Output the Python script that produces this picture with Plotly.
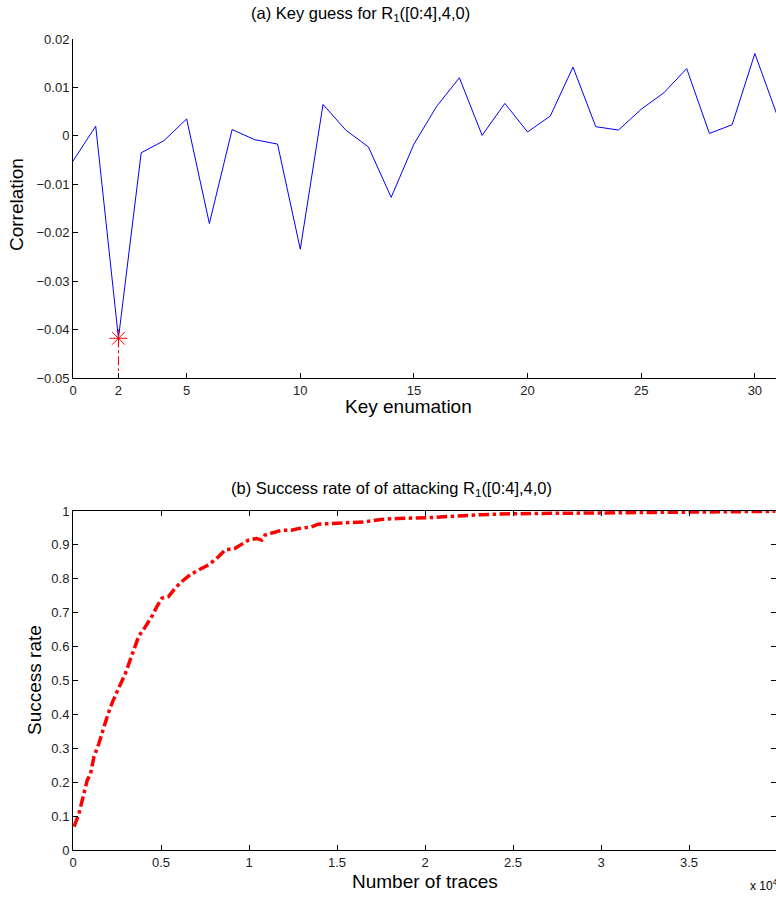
import plotly.graph_objects as go

# ---- data: (a) correlation per key guess ----
key_guess = list(range(32))
correlation = [-0.0052, 0.0020, -0.0418, -0.0035, -0.0010, 0.0035, -0.0181, 0.0013,
               -0.0008, -0.0017, -0.0234, 0.0065, 0.0012, -0.0023, -0.0127, -0.0017,
               0.0061, 0.0120, 0.0001, 0.0067, 0.0008, 0.0041, 0.0142, 0.0019,
               0.0012, 0.0055, 0.0089, 0.0139, 0.0005, 0.0023, 0.0170, 0.0040]
best_key = 2
best_corr = -0.0418
top_xticks = [0, 2, 5, 10, 15, 20, 25, 30]
top_yticks = [0.02, 0.01, 0, -0.01, -0.02, -0.03, -0.04, -0.05]

# ---- data: (b) success rate vs number of traces ----
traces = [60, 340, 810, 1000, 1190, 1470, 1850, 2130, 2415, 2700, 2980, 3264, 3547,
          3736, 4019, 4490, 4774, 5057, 5434, 5811, 6189, 6660, 7132, 7698, 8264,
          8642, 9208, 9962, 10434, 10717, 10906, 11472, 11849, 12415, 12792, 13547,
          13925, 14679, 15623, 16566, 17509, 18453, 20070, 21200, 23100, 24970,
          26900, 28780, 30650, 32570, 34490, 36380, 38250, 39900]
success = [0.069, 0.108, 0.206, 0.226, 0.275, 0.314, 0.378, 0.422, 0.457, 0.491,
           0.521, 0.563, 0.602, 0.631, 0.651, 0.690, 0.719, 0.743, 0.748, 0.773,
           0.792, 0.812, 0.826, 0.841, 0.865, 0.885, 0.890, 0.914, 0.919, 0.914,
           0.929, 0.936, 0.943, 0.943, 0.948, 0.953, 0.961, 0.963, 0.965, 0.968,
           0.975, 0.978, 0.980, 0.984, 0.989, 0.992, 0.993, 0.994, 0.996, 0.997,
           0.998, 0.999, 0.999, 0.999]
bot_xticks = [0, 5000, 10000, 15000, 20000, 25000, 30000, 35000, 40000]
bot_xticklabels = ["0", "0.5", "1", "1.5", "2", "2.5", "3", "3.5", "4"]
bot_yticks = [0, 0.1, 0.2, 0.3, 0.4, 0.5, 0.6, 0.7, 0.8, 0.9, 1]

# Page body margin is removed (post_script), so figure pixels == window pixels.
W, H = 776, 897
L, R = 73, 0
T = 39
PLOT_BOTTOM = 850
B = H - PLOT_BOTTOM
ph = H - T - B
pw = W - L - R

def py(y):  # window pixel y -> paper fraction
    return (PLOT_BOTTOM - y) / ph

FONT = "Liberation Sans, Arial, Helvetica, sans-serif"

fig = go.Figure()
fig.add_trace(go.Scatter(x=key_guess, y=correlation, mode="lines",
                         line=dict(color="#0000ff", width=1), xaxis="x", yaxis="y",
                         showlegend=False))
fig.add_trace(go.Scatter(x=[best_key, best_key], y=[best_corr, -0.05], mode="lines",
                         line=dict(color="#ff0000", width=1, dash="dashdot"),
                         xaxis="x", yaxis="y", showlegend=False))
fig.add_trace(go.Scatter(x=[best_key], y=[best_corr], mode="markers",
                         marker=dict(symbol="asterisk-open", size=15, color="#ff0000",
                                     line=dict(color="#ff0000", width=1)),
                         xaxis="x", yaxis="y", showlegend=False))
fig.add_trace(go.Scatter(x=traces, y=success, mode="lines",
                         line=dict(color="#ff0000", width=3.5, dash="dashdot"),
                         xaxis="x2", yaxis="y2", showlegend=False))

axis_common = dict(showgrid=False, zeroline=False, ticks="inside", ticklen=5,
                   tickcolor="black", linecolor="black", linewidth=1, showline=True,
                   tickfont=dict(family=FONT, size=13, color="#222"))

fig.update_layout(
    width=W, height=H,
    margin=dict(l=L, r=R, t=T, b=B, autoexpand=False),
    paper_bgcolor="white", plot_bgcolor="white",
    xaxis=dict(axis_common, domain=[0, 1], range=[0, 30.93], tickvals=top_xticks,
               anchor="y", mirror=False),
    yaxis=dict(axis_common, domain=[py(378), py(39)], range=[-0.05, 0.02],
               tickvals=top_yticks, tickformat=".2~f", anchor="x", mirror=False),
    xaxis2=dict(axis_common, domain=[0, 1], range=[0, 39940], tickvals=bot_xticks,
                ticktext=bot_xticklabels, anchor="y2", mirror="ticks"),
    yaxis2=dict(axis_common, domain=[py(850), py(511)], range=[0, 1],
                tickvals=bot_yticks, tickformat=".1~f", anchor="x2", mirror="ticks"),
)

def ann_px(text, x, y, size, xanchor="center", yanchor="middle", angle=0):
    fig.add_annotation(text=text, x=(x - L) / pw, y=py(y),
                       xref="paper", yref="paper", showarrow=False,
                       xanchor=xanchor, yanchor=yanchor, textangle=angle,
                       font=dict(family=FONT, size=size, color="black"))

ann_px("(a) Key guess for R<sub>1</sub>([0:4],4,0)", 360, 14, 16.5)
ann_px("Key enumation", 408, 407, 19)
ann_px("Correlation", 17, 205, 19, angle=-90)
ann_px("(b) Success rate of of attacking R<sub>1</sub>([0:4],4,0)", 391, 489, 16.5)
ann_px("Number of traces", 425, 881, 19)
ann_px("Success rate", 34, 680, 19, angle=-90)
ann_px("x 10<sup>4</sup>", 748, 885, 12, xanchor="left")

fig.write_html(
    "out.html",
    config={"displayModeBar": False},
    post_script="document.body.style.margin='0px';"
                "document.body.style.overflow='hidden';",
)
